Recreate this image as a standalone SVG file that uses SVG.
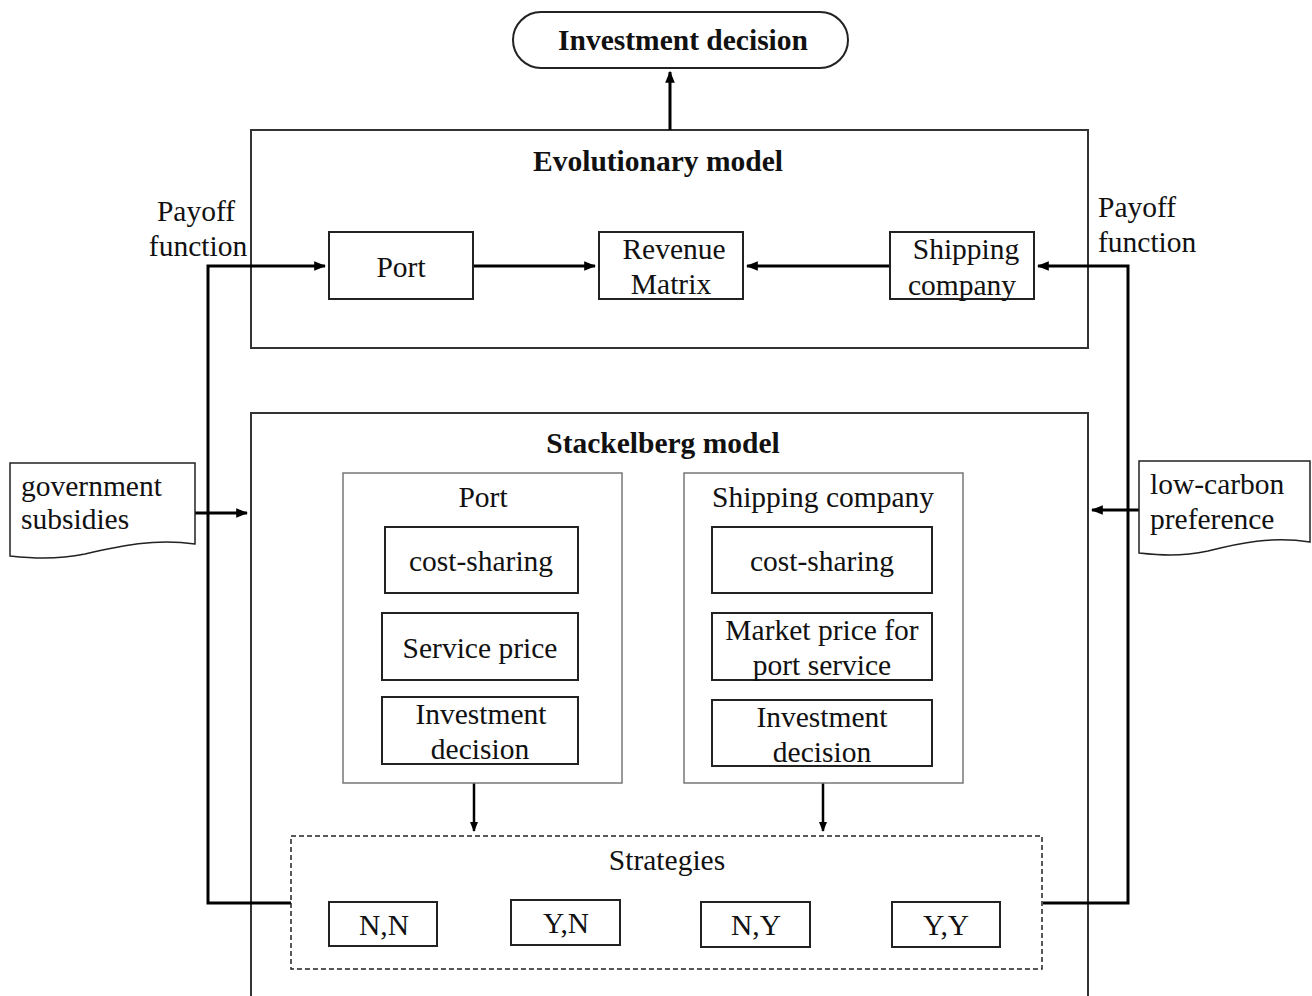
<svg xmlns="http://www.w3.org/2000/svg" width="1312" height="996" viewBox="0 0 1312 996">
<style>
text{font-family:"Liberation Serif","Times New Roman",serif;font-size:29.5px;fill:#111;text-anchor:middle}
.b{font-weight:bold}
.l{text-anchor:start}
.box{fill:#fff;stroke:#222;stroke-width:2}
.panel{fill:#fff;stroke:#777;stroke-width:1.5}
.big{fill:#fff;stroke:#333;stroke-width:2}
.c{fill:none;stroke:#000;stroke-width:3}
.c2{fill:none;stroke:#000;stroke-width:2.5}
</style>
<defs>
<marker id="ah" viewBox="0 0 10 10" refX="9" refY="5" markerWidth="4" markerHeight="4" orient="auto" markerUnits="strokeWidth"><path d="M0,1 L10,5 L0,9 z" fill="#000"/></marker>
</defs>
<rect width="1312" height="996" fill="#fff"/>

<g id="evolutionary">
<rect class="big" x="251" y="130" width="837" height="218"/>
<text class="b" x="658" y="171">Evolutionary model</text>
</g>
<g id="stackelberg">
<path d="M251,996 V413 H1088 V996" fill="#fff" stroke="#333" stroke-width="2"/>
<text class="b" x="663" y="453">Stackelberg model</text>
</g>

<g id="connectors">
<path class="c" d="M670,130 V72" marker-end="url(#ah)"/>
<path class="c" d="M473,266 H595" marker-end="url(#ah)"/>
<path class="c" d="M890,266 H747" marker-end="url(#ah)"/>
<path class="c" d="M291,903 H208 V266 H325" marker-end="url(#ah)"/>
<path class="c" d="M1043,903 H1128 V266 H1038" marker-end="url(#ah)"/>
<path class="c" d="M195,513 H247" marker-end="url(#ah)"/>
<path class="c" d="M1139,510 H1092" marker-end="url(#ah)"/>
<path class="c2" d="M474,783 V831" marker-end="url(#ah)"/>
<path class="c2" d="M823,783 V831" marker-end="url(#ah)"/>
</g>

<g id="invest-top">
<rect x="513" y="12" width="335" height="56" rx="28" ry="28" class="box"/>
<text class="b" x="683" y="50">Investment decision</text>
</g>

<g id="payoff-left"><text x="196" y="221">Payoff</text><text x="198" y="256">function</text></g>
<g id="payoff-right"><text class="l" x="1098" y="217">Payoff</text><text class="l" x="1098" y="252">function</text></g>

<g id="evo-port"><rect class="box" x="329" y="232" width="144" height="67"/><text x="401" y="277">Port</text></g>
<g id="evo-revenue"><rect class="box" x="599" y="232" width="144" height="67"/><text x="674" y="259">Revenue</text><text x="671" y="294">Matrix</text></g>
<g id="evo-shipping"><rect class="box" x="890" y="232" width="144" height="67"/><text x="966" y="259">Shipping</text><text x="962" y="295">company</text></g>

<g id="gov">
<path d="M10,463 H195 V544 C155,538 120,546 85,554 C55,560 30,558 10,556 Z" fill="#fff" stroke="#222" stroke-width="1.5"/>
<text class="l" x="21" y="496">government</text><text class="l" x="21" y="529">subsidies</text>
</g>
<g id="lowcarbon">
<path d="M1139,461 H1310 V542 C1272,536 1240,543 1208,551 C1180,557 1158,555 1139,553 Z" fill="#fff" stroke="#222" stroke-width="1.5"/>
<text class="l" x="1150" y="494">low-carbon</text><text class="l" x="1150" y="529">preference</text>
</g>

<g id="port-panel">
<rect class="panel" x="343" y="473" width="279" height="310"/>
<text x="483" y="507">Port</text>
</g>
<g id="port-cost"><rect class="box" x="385" y="527" width="193" height="66"/><text x="481" y="571">cost-sharing</text></g>
<g id="port-price"><rect class="box" x="382" y="613" width="196" height="67"/><text x="480" y="658">Service price</text></g>
<g id="port-invest"><rect class="box" x="382" y="697" width="196" height="67"/><text x="481" y="724">Investment</text><text x="480" y="759">decision</text></g>

<g id="ship-panel">
<rect class="panel" x="684" y="473" width="279" height="310"/>
<text x="823" y="507">Shipping company</text>
</g>
<g id="ship-cost"><rect class="box" x="712" y="527" width="220" height="66"/><text x="822" y="571">cost-sharing</text></g>
<g id="ship-price"><rect class="box" x="712" y="613" width="220" height="67"/><text x="822" y="640">Market price for</text><text x="822" y="675">port service</text></g>
<g id="ship-invest"><rect class="box" x="712" y="700" width="220" height="66"/><text x="822" y="727">Investment</text><text x="822" y="762">decision</text></g>

<g id="strategies">
<rect x="291" y="836" width="751" height="133" fill="#fff" stroke="#222" stroke-width="1.5" stroke-dasharray="5,3"/>
<text x="667" y="870">Strategies</text>
</g>
<g id="nn"><rect class="box" x="329" y="902" width="108" height="44"/><text x="384" y="935">N,N</text></g>
<g id="yn"><rect class="box" x="511" y="900" width="109" height="45"/><text x="566" y="933">Y,N</text></g>
<g id="ny"><rect class="box" x="701" y="902" width="109" height="45"/><text x="756" y="935">N,Y</text></g>
<g id="yy"><rect class="box" x="892" y="902" width="108" height="45"/><text x="946" y="935">Y,Y</text></g>
</svg>
